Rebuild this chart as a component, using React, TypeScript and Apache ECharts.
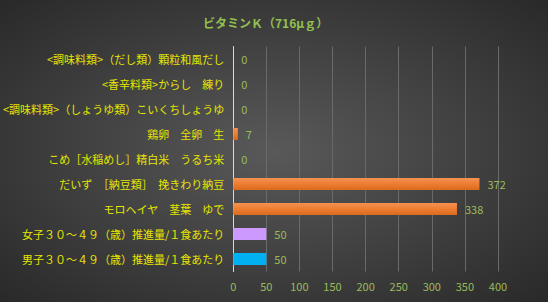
import React, { useEffect, useRef } from "react";
import * as echarts from "echarts";

const categories = [
  "<調味料類>（だし類）顆粒和風だし",
  "<香辛料類>からし　練り",
  "<調味料類>（しょうゆ類）こいくちしょうゆ",
  "鶏卵　全卵　生",
  "こめ［水稲めし］精白米　うるち米",
  "だいず　［納豆類］　挽きわり納豆",
  "モロヘイヤ　茎葉　ゆで",
  "女子３０～４９（歳）推進量/１食あたり",
  "男子３０～４９（歳）推進量/１食あたり",
];
const values = [0, 0, 0, 7, 0, 372, 338, 50, 50];
const barColors = [
  "orange", "orange", "orange", "orange", "orange", "orange", "orange",
  "#cc99ff", "#00b0f0",
];
const titleText = "ビタミンＫ（716μｇ）";

export default function App() {
  const ref = useRef<HTMLDivElement>(null);
  useEffect(() => {
    document.body.style.margin = "0";
    const chart = echarts.init(ref.current!, null, { renderer: "svg" });
    const orangeGrad = new echarts.graphic.LinearGradient(0, 0, 0, 1, [
      { offset: 0, color: "#f59152" },
      { offset: 0.5, color: "#ed7d31" },
      { offset: 1, color: "#d96a1e" },
    ]);
    chart.setOption({
      animation: false,
      backgroundColor: new echarts.graphic.RadialGradient(0.5, 0.5, 0.75, [
        { offset: 0, color: "#595959" },
        { offset: 1, color: "#262626" },
      ]),
      textStyle: { fontFamily: "'Noto Sans CJK JP', sans-serif" },
      title: {
        text: titleText,
        left: 198,
        top: 11,
        textStyle: {
          color: "#92c050",
          fontSize: 12,
          fontWeight: "bold",
          fontFamily: "'Noto Sans CJK JP', sans-serif",
        },
      },
      grid: { left: 231, right: 50, top: 46.5, bottom: 30.5, containLabel: false },
      xAxis: {
        type: "value",
        min: 0,
        max: 400,
        interval: 50,
        axisLine: { show: false },
        axisTick: { show: false },
        splitLine: { lineStyle: { color: "#6a6a6a", width: 1 } },
        axisLabel: { color: "#9bbb59", fontSize: 11, margin: 9 },
      },
      yAxis: {
        type: "category",
        data: categories,
        inverse: true,
        axisLine: { show: true, lineStyle: { color: "#d9d9d9", width: 1 } },
        axisTick: { show: false },
        axisLabel: { color: "#e6e600", fontSize: 11, margin: 9 },
      },
      series: [
        {
          type: "bar",
          data: values.map((v, i) => ({
            value: v,
            itemStyle: { color: barColors[i] === "orange" ? orangeGrad : barColors[i] },
          })),
          barWidth: 12,
          label: {
            show: true,
            position: "right",
            distance: 8,
            color: "#9bbb59",
            fontSize: 11,
          },
        },
      ],
    });
    return () => chart.dispose();
  }, []);
  return <div ref={ref} style={{ width: 548, height: 302 }} />;
}
